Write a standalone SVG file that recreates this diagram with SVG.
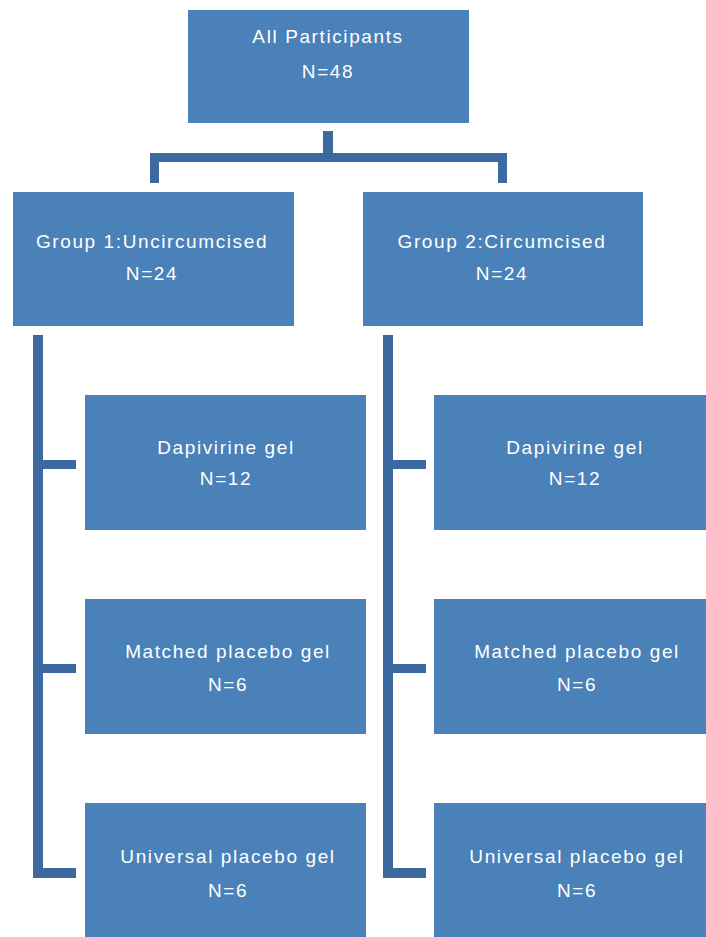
<svg xmlns="http://www.w3.org/2000/svg" width="706" height="937" viewBox="0 0 706 937">
<style>
.box{fill:#4a81b8}
.t{fill:#ffffff;font-family:"Liberation Sans",Arial,sans-serif;font-size:19px;letter-spacing:1.6px;text-anchor:middle}
.c{fill:#3c69a0}
</style>
<rect width="706" height="937" fill="#ffffff"/>
<g id="connectors">
<rect class="c" x="323" y="131" width="10" height="31"/>
<rect class="c" x="150" y="153" width="357" height="9"/>
<rect class="c" x="150" y="153" width="9" height="30"/>
<rect class="c" x="498" y="153" width="9" height="30"/>
<rect class="c" x="33" y="335" width="10" height="543"/>
<rect class="c" x="33" y="460" width="43" height="9"/>
<rect class="c" x="33" y="664" width="43" height="9"/>
<rect class="c" x="33" y="868" width="43" height="10"/>
<rect class="c" x="383" y="335" width="10" height="543"/>
<rect class="c" x="383" y="460" width="43" height="9"/>
<rect class="c" x="383" y="664" width="43" height="9"/>
<rect class="c" x="383" y="868" width="43" height="10"/>
</g>
<g id="all"><rect class="box" x="188" y="10" width="281" height="113"/><text class="t" x="328" y="43">All Participants</text><text class="t" x="328" y="78">N=48</text></g>
<g id="group1"><rect class="box" x="13" y="192" width="281" height="134"/><text class="t" x="152" y="248">Group 1:Uncircumcised</text><text class="t" x="152" y="280">N=24</text></g>
<g id="group2"><rect class="box" x="363" y="192" width="280" height="134"/><text class="t" x="502" y="248">Group 2:Circumcised</text><text class="t" x="502" y="280">N=24</text></g>
<g id="g1dap"><rect class="box" x="85" y="395" width="281" height="135"/><text class="t" x="226" y="454">Dapivirine gel</text><text class="t" x="226" y="485">N=12</text></g>
<g id="g1mat"><rect class="box" x="85" y="599" width="281" height="135"/><text class="t" x="228" y="658">Matched placebo gel</text><text class="t" x="228" y="691">N=6</text></g>
<g id="g1uni"><rect class="box" x="85" y="803" width="281" height="134"/><text class="t" x="228" y="863">Universal placebo gel</text><text class="t" x="228" y="897">N=6</text></g>
<g id="g2dap"><rect class="box" x="434" y="395" width="272" height="135"/><text class="t" x="575" y="454">Dapivirine gel</text><text class="t" x="575" y="485">N=12</text></g>
<g id="g2mat"><rect class="box" x="434" y="599" width="272" height="135"/><text class="t" x="577" y="658">Matched placebo gel</text><text class="t" x="577" y="691">N=6</text></g>
<g id="g2uni"><rect class="box" x="434" y="803" width="272" height="134"/><text class="t" x="577" y="863">Universal placebo gel</text><text class="t" x="577" y="897">N=6</text></g>
</svg>
